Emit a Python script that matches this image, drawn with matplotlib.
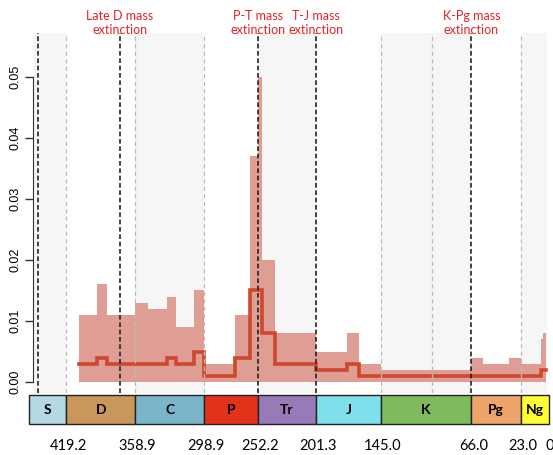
import matplotlib
matplotlib.use("Agg")
import matplotlib.pyplot as plt
from matplotlib.patches import Rectangle
import matplotlib.transforms as mtransforms

# time bins (Ma, old -> young) and rates per bin
bin_edges = [408.0, 392.5, 383.3, 358.9, 347.5, 331.5, 323.7, 307.5, 298.9,
             272.0, 258.9, 252.2, 248.2, 237.1, 201.3, 174.4, 163.9, 145.0,
             66.0, 56.1, 33.2, 23.0, 5.3, 3.6, 1.0]
upper = [0.011, 0.016, 0.011, 0.013, 0.012, 0.014, 0.009, 0.015, 0.003,
         0.011, 0.037, 0.050, 0.020, 0.008, 0.005, 0.008, 0.003, 0.002,
         0.004, 0.003, 0.004, 0.003, 0.007, 0.008]
median = [0.003, 0.004, 0.003, 0.003, 0.003, 0.004, 0.003, 0.005, 0.001,
          0.004, 0.015, 0.015, 0.008, 0.003, 0.002, 0.003, 0.001, 0.001,
          0.001, 0.001, 0.001, 0.001, 0.002, 0.002]

periods = ["S", "D", "C", "P", "Tr", "J", "K", "Pg", "Ng"]
period_bounds = [443.8, 419.2, 358.9, 298.9, 252.2, 201.3, 145.0, 66.0, 23.0, 0.0]
period_colors = ["#b3d8e6", "#c9975b", "#7ab5ca", "#e2321a", "#967bb8",
                 "#7ee0ea", "#7fba5f", "#eea56a", "#ffff33"]
shaded = ["S", "C", "Tr", "K", "Ng"]
boundary_labels = ["419.2", "358.9", "298.9", "252.2", "201.3", "145.0", "66.0", "23.0", "0"]
stage_lines = [419.2, 358.9, 298.9, 145.0, 100.5, 23.0]

extinctions = [443.8, 372.2, 252.2, 201.3, 66.0]
ext_labels = ["", "Late D mass\nextinction", "P-T mass\nextinction",
              "T-J mass\nextinction", "K-Pg mass\nextinction"]

W, H = 553, 455
fig = plt.figure(figsize=(W / 100, H / 100), dpi=100)
ax = fig.add_axes([33 / W, 1 - 393 / H, (548 - 33) / W, (393 - 33) / H])
ax.set_xlim(448, -0.8)
ax.set_ylim(-0.0018, 0.0572)

# alternating period shading
for i, p in enumerate(periods):
    if p in shaded:
        left = 460 if i == 0 else period_bounds[i]
        ax.axvspan(left, period_bounds[i + 1], color="#f6f6f6", lw=0, zorder=0)

ax.fill_between(bin_edges, upper + [upper[-1]], 0, step="post",
                color="#df9e93", lw=0, zorder=1)
ax.step(bin_edges, median + [median[-1]], where="post",
        color="#d0472f", lw=2.6, zorder=2, solid_joinstyle="miter")

for x in stage_lines:
    ax.axvline(x, color="#bcbcbc", lw=0.9, ls=(0, (3.5, 2.5)), zorder=3)
for x, lab in zip(extinctions, ext_labels):
    ax.axvline(x, color="#222222", lw=1.2, ls=(0, (2.8, 1.6)), zorder=4)
    if lab:
        ax.text(x, 1 - 36 / H, lab, transform=mtransforms.blended_transform_factory(ax.transData, fig.transFigure),
                ha="center", va="bottom", color="#e3222a", fontsize=9.0,
                family="Lato", linespacing=1.25)

for s in ["top", "right", "bottom"]:
    ax.spines[s].set_visible(False)
ax.spines["left"].set_bounds(0, 0.05)
ax.spines["left"].set_color("#333333")
ax.set_xticks([])
ax.set_yticks([0.0, 0.01, 0.02, 0.03, 0.04, 0.05])
ax.set_yticklabels(["0.00", "0.01", "0.02", "0.03", "0.04", "0.05"],
                   rotation=90, va="center", family="Liberation Sans", fontsize=9)
ax.tick_params(axis="y", length=6, width=1, color="#333333", pad=2)

# geological timescale bar
ax2 = fig.add_axes([29 / W, 1 - 424 / H, (549 - 29) / W, (424 - 395) / H])
x_left = 448 + 4 / 1.1475
x_right = -0.8 - 1 / 1.1475
ax2.set_xlim(x_left, x_right)
ax2.set_ylim(0, 1)
ax2.axis("off")
for i, p in enumerate(periods):
    a = x_left if i == 0 else period_bounds[i]
    b = x_right if i == len(periods) - 1 else period_bounds[i + 1]
    ax2.add_patch(Rectangle((b, 0), a - b, 1, facecolor=period_colors[i],
                            edgecolor="#222222", lw=1.0, clip_on=False))
    ax2.text((a + b) / 2, 0.5, p, ha="center", va="center", fontsize=10,
             fontweight="bold", family="Lato")

trans = mtransforms.blended_transform_factory(ax2.transData, fig.transFigure)
for x, lab in zip(period_bounds[1:], boundary_labels):
    ax2.text(x - 2, 1 - 446 / H, lab, transform=trans, ha="center", va="center",
             fontsize=10.5, family="Lato")

fig.savefig("out.png", dpi=100)
